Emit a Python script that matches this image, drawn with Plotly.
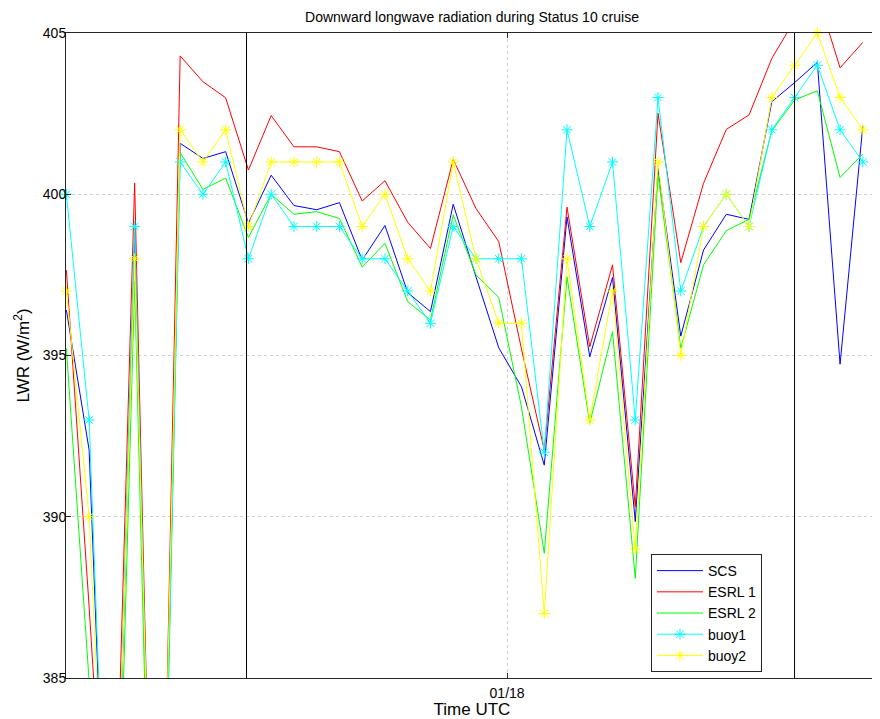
import pandas as pd
import plotly.graph_objects as go

# ---- data ----
start_time = "2011-01-17 04:38"
n_points = 36
times = pd.date_range(start_time, periods=n_points, freq="h")

scs = [396.41, 392.07, 374.0, 398.8, 370.0, 401.58, 401.11, 401.32, 399.1, 400.59,
       399.65, 399.52, 399.74, 397.96, 399.03, 396.95, 396.36, 399.69, 397.44, 395.24,
       394.03, 391.6, 399.3, 394.96, 397.42, 389.85, 400.8, 395.6, 398.27, 399.38,
       399.22, 402.87, 403.46, 404.09, 394.73, 402.12]
esrl1 = [397.65, 387.2, 376.0, 400.35, 370.0, 404.29, 403.49, 402.99, 400.75, 402.44,
         401.47, 401.47, 401.32, 399.79, 400.42, 399.13, 398.32, 401.08, 399.56, 398.53,
         395.2, 392.07, 399.6, 395.27, 397.81, 390.31, 402.51, 397.88, 400.34, 402.01,
         402.46, 404.21, 405.4, 406.2, 403.92, 404.71]
esrl2 = [395.22, 384.9, 372.0, 397.3, 369.0, 401.29, 400.15, 400.5, 398.66, 400.0,
         399.38, 399.46, 399.25, 397.74, 398.48, 396.67, 396.1, 399.36, 397.5, 396.8,
         393.4, 388.87, 397.44, 392.9, 395.74, 388.09, 400.6, 395.22, 397.81, 398.87,
         399.22, 401.97, 402.92, 403.21, 400.52, 401.25]
buoy1 = [400, 393, 374, 399, 370, 401, 400, 401, 398, 400,
         399, 399, 399, 398, 398, 397, 396, 399, 398, 398,
         398, 392, 402, 399, 401, 393, 403, 397, 399, 400,
         399, 402, 403, 404, 402, 401]
buoy2 = [397, 390, 375, 398, 371, 402, 401, 402, 399, 401,
         401, 401, 401, 399, 400, 398, 397, 401, 398, 396,
         396, 387, 398, 393, 397, 389, 401, 395, 399, 400,
         399, 403, 404, 405, 403, 402]

series_names = ["SCS", "ESRL 1", "ESRL 2", "buoy1", "buoy2"]
event_times = ["2011-01-17 12:33", "2011-01-18 12:38"]
x_range = ["2011-01-17 04:37", "2011-01-18 16:18"]
y_range = [385, 405]
y_ticks = [385, 390, 395, 400, 405]
x_tick_vals = ["2011-01-18 00:00"]
x_tick_text = ["01/18"]

FONT = "Liberation Sans, Arial, Helvetica, sans-serif"

# page body has an 8px default margin; figure sized to fill the rest of the window
FIG_W, FIG_H = 872, 711

fig = go.Figure()
styles = [
    (scs, "#0000ff", None),
    (esrl1, "#ff0000", None),
    (esrl2, "#00ff00", None),
    (buoy1, "#00ffff", "asterisk-open"),
    (buoy2, "#ffff00", "asterisk-open"),
]
for name, (vals, color, sym) in zip(series_names, styles):
    if sym:
        fig.add_trace(go.Scatter(
            x=times, y=vals, name=name, mode="lines+markers",
            line=dict(color=color, width=1),
            marker=dict(symbol=sym, size=9, line=dict(color=color, width=1)),
            cliponaxis=False))
    else:
        fig.add_trace(go.Scatter(
            x=times, y=vals, name=name, mode="lines",
            line=dict(color=color, width=1)))

for t in event_times:
    fig.add_shape(type="line", xref="x", yref="paper", x0=t, x1=t, y0=0, y1=1,
                  line=dict(color="#000000", width=1), layer="above")

axis_common = dict(showline=True, linecolor="#262626", linewidth=1, mirror="allticks",
                   ticks="inside", ticklen=5, tickcolor="#262626",
                   showgrid=True, gridcolor="#d0d0d0", griddash="dot", gridwidth=1,
                   zeroline=False, tickfont=dict(family=FONT, size=14, color="#000000"))

fig.update_layout(
    width=FIG_W, height=FIG_H,
    margin=dict(l=58, r=2, t=25, b=41, autoexpand=False),
    plot_bgcolor="white", paper_bgcolor="white",
    font=dict(family=FONT, size=14, color="#000000"),
    title=dict(text="Downward longwave radiation during Status 10 cruise",
               x=0.5, xref="paper", y=1 - 9 / FIG_H, yref="container",
               yanchor="middle", xanchor="center",
               font=dict(family=FONT, size=14, color="#000000")),
    xaxis=dict(range=x_range, tickvals=x_tick_vals, ticktext=x_tick_text,
               ticklabelstandoff=2,
               title=dict(text="Time UTC", standoff=4), **axis_common),
    yaxis=dict(range=y_range, tickvals=y_ticks, ticklabelstandoff=-4,
               title=dict(text="LWR (W/m<sup>2</sup>)", standoff=8), **axis_common),
    legend=dict(x=0.7204, y=0.1922, xanchor="left", yanchor="top",
                bgcolor="white", bordercolor="#262626", borderwidth=1,
                font=dict(family=FONT, size=14), tracegroupgap=0, itemwidth=46),
    showlegend=True,
)

fig.write_html("out.html")
